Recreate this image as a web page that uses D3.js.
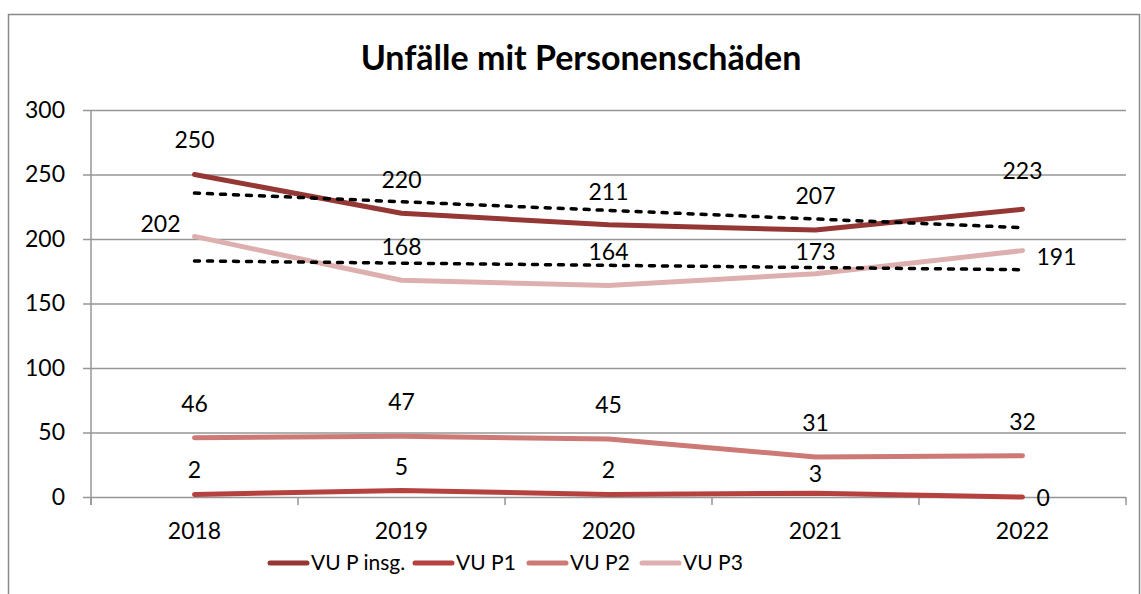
<!DOCTYPE html>
<html lang="de">
<head>
<meta charset="UTF-8">
<title>Unfälle mit Personenschäden</title>
<script src="https://d3js.org/d3.v7.min.js"></script>
<style>
    body { margin: 0; background: #fff; }
    svg { font-family: "Lato", "Open Sans", sans-serif; }
</style>
</head>
<body>
<div id="chart"></div>
<script>
    // data
    var years = ["2018", "2019", "2020", "2021", "2022"];
    var seriesNames = ["VU P insg.", "VU P1", "VU P2", "VU P3"];
    var insg = [250, 220, 211, 207, 223];
    var p1 = [2, 5, 2, 3, 0];
    var p2 = [46, 47, 45, 31, 32];
    var p3 = [202, 168, 164, 173, 191];
    // linear trend lines (values at 2018 and 2022)
    var trendInsg = [235.6, 208.8];
    var trendP3 = [183.0, 176.2];
    var yTicks = [0, 50, 100, 150, 200, 250, 300];

    var colors = ["#953735", "#b5423f", "#cd7a77", "#ddb0af"];
    // where each data label sits relative to its point
    var labelPos = [
        ["above", "above", "above", "above", "above"],
        ["above", "above", "above", "above", "right"],
        ["above", "above", "above", "above", "above"],
        ["left", "above", "above", "above", "right"]
    ];
    // pixel gap for labels placed above
    var aboveGap = [
        [35, 33, 33, 34, 38],
        [24, 24, 24, 19, 0],
        [34, 34, 34, 34, 34],
        [0, 33, 33, 22, 0]
    ];

    var width = 1141, height = 594;
    var margin = {left: 91, right: 15, top: 110, bottom: 97};

    var svg = d3.select("#chart").append("svg")
        .attr("width", width)
        .attr("height", height);

    // outer frame
    svg.append("rect")
        .attr("x", 8.5).attr("y", 14.5)
        .attr("width", 1131).attr("height", 600)
        .attr("fill", "none")
        .attr("stroke", "#888")
        .attr("stroke-width", 1.5);

    svg.append("text")
        .attr("x", 581).attr("y", 70)
        .attr("text-anchor", "middle")
        .style("font-size", "34px")
        .style("font-weight", "bold")
        .text("Unfälle mit Personenschäden");

    var x = d3.scaleBand()
        .domain(years)
        .range([margin.left, width - margin.right]);

    var y = d3.scaleLinear()
        .domain([0, 300])
        .range([height - margin.bottom, margin.top]);

    var cx = d => x(d) + x.bandwidth() / 2;

    // gridlines + y axis
    var yAxis = svg.append("g")
        .attr("transform", `translate(${margin.left},0)`)
        .call(d3.axisLeft(y).tickValues(yTicks)
            .tickSizeInner(-(width - margin.right - margin.left)));
    yAxis.select(".domain").remove();
    yAxis.selectAll(".tick line")
        .attr("x1", -8)
        .attr("stroke", "#969696")
        .attr("stroke-width", 1.5);
    yAxis.selectAll(".tick text")
        .attr("x", -26)
        .attr("fill", "#000")
        .style("font-size", "23px")
        .style("font-family", "Lato, sans-serif");

    svg.append("line")
        .attr("x1", margin.left).attr("x2", margin.left)
        .attr("y1", y(300)).attr("y2", y(0) + 8)
        .attr("stroke", "#969696").attr("stroke-width", 1.5);

    // x axis ticks at band boundaries
    var bounds = years.map(d => x(d)).concat([x(years[years.length - 1]) + x.bandwidth()]);
    svg.selectAll(".xtick")
        .data(bounds)
        .join("line")
        .attr("class", "xtick")
        .attr("x1", d => d).attr("x2", d => d)
        .attr("y1", y(0)).attr("y2", y(0) + 8)
        .attr("stroke", "#969696").attr("stroke-width", 1.5);

    svg.selectAll(".xlabel")
        .data(years)
        .join("text")
        .attr("class", "xlabel")
        .attr("x", d => cx(d))
        .attr("y", y(0) + 42)
        .attr("text-anchor", "middle")
        .style("font-size", "23px")
        .text(d => d);

    var line = d3.line()
        .x((d, i) => cx(years[i]))
        .y(d => y(d));

    var allSeries = [insg, p1, p2, p3];

    // draw lighter series first so the order matches the reference
    [p2, p1, p3, insg].forEach(function(vals) {
        var k = allSeries.indexOf(vals);
        svg.append("path")
            .datum(vals)
            .attr("d", line)
            .attr("fill", "none")
            .attr("stroke", colors[k])
            .attr("stroke-width", 5)
            .attr("stroke-linecap", "round")
            .attr("stroke-linejoin", "round");
    });

    // trend lines
    [trendInsg, trendP3].forEach(function(t) {
        svg.append("line")
            .attr("x1", cx(years[0])).attr("y1", y(t[0]))
            .attr("x2", cx(years[years.length - 1])).attr("y2", y(t[1]))
            .attr("stroke", "#000")
            .attr("stroke-width", 3.5)
            .attr("stroke-dasharray", "5,8")
            .attr("stroke-linecap", "round");
    });

    // data labels
    allSeries.forEach(function(vals, k) {
        svg.selectAll(".lbl" + k)
            .data(vals)
            .join("text")
            .attr("class", "lbl" + k)
            .attr("x", function(d, i) {
                var p = labelPos[k][i];
                if (p === "left") return cx(years[i]) - 14;
                if (p === "right") return cx(years[i]) + 14;
                return cx(years[i]);
            })
            .attr("y", function(d, i) {
                var p = labelPos[k][i];
                if (p === "above") return y(d) - aboveGap[k][i];
                if (p === "left") return y(d) - 12;
                return d === 0 ? y(d) + 1 : y(d) + 6;
            })
            .attr("dy", "0.35em")
            .attr("text-anchor", function(d, i) {
                var p = labelPos[k][i];
                return p === "left" ? "end" : (p === "right" ? "start" : "middle");
            })
            .style("font-size", "23px")
            .text(d => d);
    });

    // legend
    var legendX = [268, 413, 527, 640];
    var legend = svg.append("g");
    seriesNames.forEach(function(name, k) {
        legend.append("line")
            .attr("x1", legendX[k] + 2).attr("x2", legendX[k] + 39)
            .attr("y1", 563).attr("y2", 563)
            .attr("stroke", colors[k])
            .attr("stroke-width", 5)
            .attr("stroke-linecap", "round");
        legend.append("text")
            .attr("x", legendX[k] + 43)
            .attr("y", 563)
            .attr("dy", "0.35em")
            .style("font-size", "21px")
            .text(name);
    });
</script>
</body>
</html>
